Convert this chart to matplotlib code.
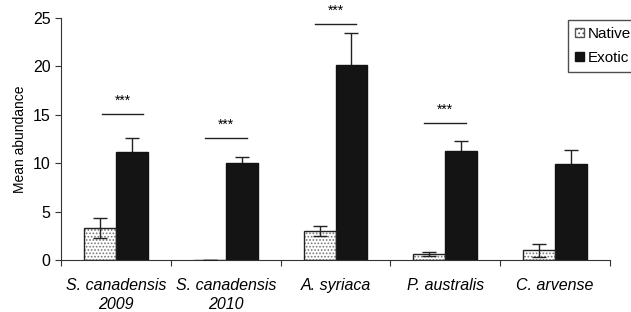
import matplotlib
matplotlib.use("Agg")
import matplotlib.pyplot as plt
import numpy as np
from matplotlib.patches import Patch

categories = ["S. canadensis\n2009", "S. canadensis\n2010", "A. syriaca", "P. australis", "C. arvense"]
native = [3.3, 0.05, 3.0, 0.6, 1.0]
native_err = [1.0, 0.0, 0.5, 0.2, 0.7]
exotic = [11.2, 10.05, 20.1, 11.3, 9.95]
exotic_err = [1.4, 0.6, 3.3, 1.0, 1.45]
sig_labels = ["***", "***", "***", "***", ""]
sig_heights = [15.1, 12.6, 24.4, 14.2, None]
yticks = [0, 5, 10, 15, 20, 25]

plt.rcParams['font.family'] = ['Liberation Sans', 'DejaVu Sans']
plt.rcParams['hatch.linewidth'] = 0.8

fig = plt.figure(figsize=(6.31, 3.12), dpi=100)
ax = fig.add_axes([0.0967, 0.1667, 0.87, 0.7756])

x = np.arange(len(categories))
w = 0.29

# native bars (light dotted)
ax.bar(x - w/2, native, w, color='white', edgecolor='#777777', hatch='.....', linewidth=0, zorder=2)
ax.bar(x - w/2, native, w, color='none', edgecolor='#222222', linewidth=1.0, zorder=3)
ax.errorbar(x - w/2, native, yerr=native_err, fmt='none', ecolor='#222222', elinewidth=1.0, capsize=5, capthick=1.0, zorder=4)

# exotic bars (dark)
ax.bar(x + w/2, exotic, w, color='#141414', edgecolor='#111111', linewidth=1.0, zorder=2)
ax.errorbar(x + w/2, exotic, yerr=exotic_err, fmt='none', ecolor='#222222', elinewidth=1.0, capsize=5, capthick=1.0, zorder=1)

# significance lines
for xi, h, s in zip(x, sig_heights, sig_labels):
    if h is None:
        continue
    off = 0.06 if xi == 0 else 0
    ax.plot([xi - 0.19 + off, xi + 0.19 + off], [h, h], color='#222222', lw=1.0)
    ax.text(xi + off, h + 0.6, s, ha='center', va='bottom', fontsize=10)

ax.set_xlim(-0.5, len(categories) - 0.5)
ax.set_ylim(0, 25)
ax.set_yticks(yticks)
ax.set_xticks(np.arange(len(categories) + 1) - 0.5)
ax.set_xticklabels([])
ax.set_xticks(x, minor=True)
ax.set_xticklabels(categories, minor=True, fontstyle='italic', fontsize=11.5, linespacing=1.35)
ax.tick_params(axis='x', which='minor', length=0, pad=13)
ax.tick_params(axis='x', which='major', length=4, direction='out', color='#333333')
ax.tick_params(axis='y', length=4, direction='out', labelsize=11.5, color='#333333')
ax.set_ylabel('Mean abundance', fontsize=10)
for s in ['top', 'right']:
    ax.spines[s].set_visible(False)
for s in ['left', 'bottom']:
    ax.spines[s].set_color('#333333')

handles = [Patch(facecolor='white', edgecolor='#555555', hatch='....', label='Native'),
           Patch(facecolor='#141414', edgecolor='#111111', label='Exotic')]
leg = ax.legend(handles=handles, loc='upper left', bbox_to_anchor=(0.9235, 0.992), fontsize=11,
                frameon=True, fancybox=False, edgecolor='#222222', handlelength=0.6, handleheight=0.6,
                handletextpad=0.25, borderpad=0.45, labelspacing=0.65, borderaxespad=0)
leg.get_frame().set_linewidth(1.0)

fig.savefig('out.png', dpi=100)
